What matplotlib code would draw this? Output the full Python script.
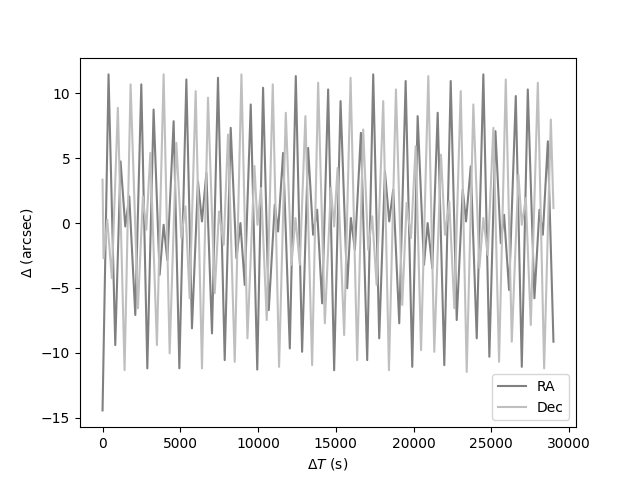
import numpy as np
import matplotlib
matplotlib.use('Agg')
import matplotlib.pyplot as plt

# RA offsets: turning points (time in s, offset in arcsec)
ra_t = [0, 386, 818, 1159, 1462, 1719, 2106, 2492, 2879, 3284, 3671, 3928, 4167, 4572, 4940,
        5390, 5751, 6137, 6395, 6678, 7039, 7425, 7857, 8243, 8610, 8868, 9145, 9531, 9950,
        10324, 10690, 11077, 11290, 11612, 12043, 12429, 12835, 13221, 13543, 13801, 14123, 14509, 14895,
        15307, 15733, 15971, 16229, 16615, 17021, 17408, 17794, 18161, 18438, 18695, 19082, 19494, 19919,
        20266, 20672, 20909, 21207, 21554, 21980, 22392, 22778, 23165, 23377, 23680, 24066, 24491, 24878,
        25270, 25612, 25824, 26146, 26577, 26964, 27350, 27776, 28098, 28317, 28639, 29000]
ra = [-14.45, 11.47, -9.41, 4.76, -0.26, 2.06, -7.09, 10.70, -11.21, 8.76, -4.0, -0.13, -2.84, 7.86, -11.2,
      11.08, -8.12, 3.22, 0.13, 3.87, -8.51, 11.21, -10.57, 7.35, -2.71, 0.0, -4.77, 9.15, -11.3,
      10.44, -6.71, 1.42, -0.65, 5.41, -9.67, 11.34, -9.93, 5.8, -0.9, 1.03, -6.19, 10.31, -11.35,
      9.41, -5.03, 0.39, -2.06, 6.96, -10.57, 11.47, -8.89, 3.99, 0.13, 2.58, -7.73, 10.96, -11.09,
      8.25, -3.22, 0.0, -3.48, 8.51, -10.96, 10.96, -7.48, 2.58, 0.13, 4.38, -8.89, 11.47, -10.31,
      7.09, -1.55, 0.64, -5.16, 9.8, -11.09, 10.31, -5.8, 1.03, -0.9, 6.31, -9.15]

# Dec offsets
dec_t = [0, 64, 303, 599, 985, 1417, 1803, 2276, 2595, 2814, 3072, 3497, 3928, 4315, 4746,
         5068, 5326, 5603, 5989, 6395, 6781, 7213, 7490, 7792, 8069, 8501, 8932, 9319, 9770,
         9962, 10196, 10561, 10947, 11354, 11785, 12150, 12408, 12687, 13046, 13479, 13865, 14297, 14683, 14895,
         15115, 15540, 15952, 16377, 16764, 17086, 17344, 17626, 18052, 18419, 18869, 19275, 19558, 19835,
         20138, 20485, 20951, 21336, 21767, 22025, 22301, 22623, 23036, 23422, 23848, 24234, 24491, 24775,
         25136, 25502, 25934, 26320, 26745, 26964, 27222, 27543, 27995, 28401, 28832, 29000]
dec = [3.35, -2.71, 0.26, -4.25, 8.89, -11.35, 10.70, -6.57, 2.06, -0.52, 5.41, -9.41, 11.47, -10.05, 6.19,
       -1.16, 1.29, -5.8, 10.18, -11.21, 9.67, -5.41, 0.9, -1.68, 6.83, -10.7, 11.47, -8.89, 4.4,
       -0.13, 2.71, -7.48, 10.7, -11.09, 8.51, -3.22, 0.39, -3.22, 8.25, -10.96, 10.83, -7.73, 2.71, -0.26,
       4.25, -8.64, 11.21, -10.57, 7.22, -2.06, 0.52, -4.77, 9.41, -11.35, 10.31, -6.32, 1.55, -1.16,
       5.93, -9.8, 11.34, -9.93, 5.28, -0.9, 1.67, -6.57, 10.18, -11.48, 9.15, -3.48, 0.39, -2.45,
       7.35, -10.7, 11.08, -9.15, 3.74, -0.13, 1.93, -7.86, 10.83, -11.21, 7.99, 1.16]

fig, ax = plt.subplots(figsize=(6.4, 4.8), dpi=100)
ax.plot(ra_t, ra, color='0.5', lw=1.5, solid_joinstyle='round', label='RA')
ax.plot(dec_t, dec, color='0.75', lw=1.5, solid_joinstyle='round', label='Dec')
ax.set_xlabel(r'$\Delta T$ (s)')
ax.set_ylabel(r'$\Delta$ (arcsec)')
ax.legend(loc='lower right')
fig.savefig('out.png')
